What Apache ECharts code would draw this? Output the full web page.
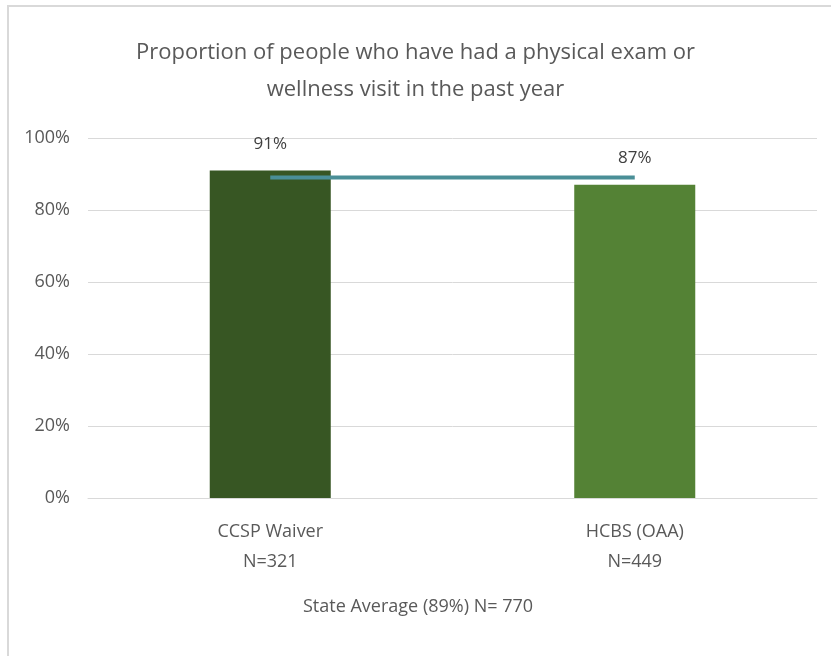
<!DOCTYPE html>
<html>
<head>
<meta charset="utf-8">
<script src="https://cdn.jsdelivr.net/npm/echarts@6/dist/echarts.min.js"></script>
<style>
html,body{margin:0;padding:0;background:#fff;}
#frame{position:absolute;left:7px;top:5px;width:824px;height:651px;border-top:2px solid #d9d9d9;border-left:2px solid #d9d9d9;box-sizing:border-box;}
#chart{position:absolute;left:0;top:0;width:831px;height:656px;}
</style>
</head>
<body>
<div id="frame"></div>
<div id="chart"></div>
<script>
var titleText = 'Proportion of people who have had a physical exam or\nwellness visit in the past year';
var categories = ['CCSP Waiver\nN=321', 'HCBS (OAA)\nN=449'];
var barValues = [91, 87];
var barColors = ['#375623', '#548235'];
var stateAvgName = 'State Average (89%) N= 770';
var stateAvgValues = [89, 89];
var yTicks = [0, 20, 40, 60, 80, 100];

var font = '"Open Sans", "Noto Sans", sans-serif';
var chart = echarts.init(document.getElementById('chart'), null, {renderer: 'canvas'});
chart.setOption({
  animation: false,
  backgroundColor: 'transparent',
  title: {
    text: titleText,
    left: 'center',
    top: 29,
    textStyle: {fontFamily: font, fontSize: 22, fontWeight: 'normal', color: '#595959', lineHeight: 37}
  },
  legend: {
    data: [{name: stateAvgName, icon: 'none'}],
    left: 293,
    top: 593,
    itemWidth: 0,
    itemGap: 0,
    textStyle: {fontFamily: font, fontSize: 18, color: '#595959'},
    selectedMode: false
  },
  grid: {left: 88, right: 14, top: 138, bottom: 158},
  xAxis: {
    type: 'category',
    data: categories,
    axisLine: {lineStyle: {color: '#d9d9d9', width: 1}},
    axisTick: {show: false},
    axisLabel: {fontFamily: font, fontSize: 18, color: '#595959', lineHeight: 30, margin: 19}
  },
  yAxis: {
    type: 'value',
    min: yTicks[0],
    max: yTicks[yTicks.length - 1],
    interval: 20,
    axisLine: {show: false},
    axisTick: {show: false},
    splitLine: {lineStyle: {color: '#d9d9d9', width: 1}},
    axisLabel: {fontFamily: font, fontSize: 18, color: '#595959', margin: 18, formatter: '{value}%'}
  },
  series: [
    {
      type: 'bar',
      name: 'Proportion',
      data: barValues.map(function (v, i) { return {value: v, itemStyle: {color: barColors[i]}}; }),
      barWidth: '33.2%',
      label: {
        show: true,
        position: 'top',
        distance: 18,
        formatter: '{c}%',
        fontFamily: font,
        fontSize: 17,
        color: '#404040'
      },
      z: 2
    },
    {
      type: 'line',
      name: stateAvgName,
      data: stateAvgValues,
      symbol: 'none',
      lineStyle: {color: '#4a8f97', width: 4},
      itemStyle: {color: '#4a8f97'},
      z: 3
    }
  ]
});
</script>
</body>
</html>
